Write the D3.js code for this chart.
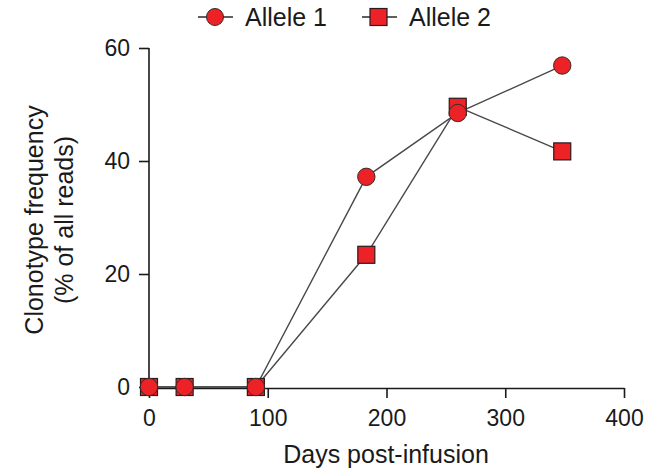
<!DOCTYPE html>
<html>
<head>
<meta charset="utf-8">
<script src="https://cdn.jsdelivr.net/npm/d3@7"></script>
<style>
  body { margin: 0; background: #fff; }
  text { font-family: "Liberation Sans", Arial, sans-serif; fill: #1a1a1a; }
</style>
</head>
<body>
<div class="chart"></div>
<script>
var days = [0, 30, 90, 183, 260, 348];
var allele1 = [0, 0, 0, 37.2, 48.5, 56.9];
var allele2 = [0, 0, 0, 23.4, 49.6, 41.7];
var xTicks = [0, 100, 200, 300, 400];
var yTicks = [0, 20, 40, 60];

var svgWidth = 656, svgHeight = 470;
var margin = { top: 48, left: 149, right: 32, bottom: 83 };
var width = svgWidth - margin.left - margin.right;   // 475
var height = svgHeight - margin.top - margin.bottom; // 339

var svg = d3.select(".chart").append("svg")
  .attr("width", svgWidth)
  .attr("height", svgHeight);

var g = svg.append("g")
  .attr("transform", `translate(${margin.left}, ${margin.top})`);

var x = d3.scaleLinear().domain([0, 400]).range([0, width]);
var y = d3.scaleLinear().domain([0, 60]).range([height, 0]);

// axes
var xAxis = g.append("g")
  .attr("transform", `translate(0, ${height + 1})`)
  .call(d3.axisBottom(x).tickValues(xTicks).tickSize(10).tickSizeOuter(0).tickPadding(12));
var yAxis = g.append("g")
  .call(d3.axisLeft(y).tickValues(yTicks).tickSize(10).tickSizeOuter(0).tickPadding(9));

[xAxis, yAxis].forEach(function (a) {
  a.select(".domain").attr("stroke", "#1a1a1a").attr("stroke-width", 1.6);
  a.selectAll(".tick line").attr("stroke", "#1a1a1a").attr("stroke-width", 1.6);
  a.selectAll(".tick text").style("font-size", "23px").attr("fill", "#1a1a1a");
});
// y domain reaches the x axis line
yAxis.select(".domain").attr("d", `M0,0V${height + 1}`);

// series lines
var line = d3.line().x(function (d, i) { return x(days[i]); }).y(function (d) { return y(d); });
[allele2, allele1].forEach(function (s) {
  g.append("path")
    .datum(s)
    .attr("d", line)
    .attr("fill", "none")
    .attr("stroke", "#4a4a4a")
    .attr("stroke-width", 1.4);
});

var red = "#ec2227";
// Allele 2 squares
g.selectAll(".sq").data(allele2).enter().append("rect")
  .attr("x", function (d, i) { return x(days[i]) - 8.5; })
  .attr("y", function (d) { return y(d) - 8.5; })
  .attr("width", 17).attr("height", 17)
  .attr("fill", red).attr("stroke", "#2a1a1a").attr("stroke-width", 1.2);

// Allele 1 circles
g.selectAll(".ci").data(allele1).enter().append("circle")
  .attr("cx", function (d, i) { return x(days[i]); })
  .attr("cy", function (d) { return y(d); })
  .attr("r", 8.7)
  .attr("fill", red).attr("stroke", "#3a2a2a").attr("stroke-width", 1);

// axis labels
g.append("text")
  .attr("x", 237)
  .attr("y", 415)
  .attr("text-anchor", "middle")
  .style("font-size", "25px")
  .text("Days post-infusion");

var yl = g.append("text")
  .attr("transform", "translate(-106, 172) rotate(-90)")
  .attr("text-anchor", "middle")
  .style("font-size", "25px");
yl.append("tspan").attr("x", 0).attr("dy", 0).text("Clonotype frequency");
yl.append("tspan").attr("x", 0).attr("dy", 30).text("(% of all reads)");

// legend
var legend = svg.append("g");
var leg = [
  { name: "Allele 1", shape: "circle", x: 198 },
  { name: "Allele 2", shape: "square", x: 362 }
];
leg.forEach(function (d) {
  var ly = 17;
  legend.append("line")
    .attr("x1", d.x).attr("x2", d.x + 35)
    .attr("y1", ly).attr("y2", ly)
    .attr("stroke", "#2a2a2a").attr("stroke-width", 1.6);
  if (d.shape === "circle") {
    legend.append("circle").attr("cx", d.x + 17).attr("cy", ly).attr("r", 8.5)
      .attr("fill", red).attr("stroke", "#3a2a2a").attr("stroke-width", 1);
  } else {
    legend.append("rect").attr("x", d.x + 8).attr("y", ly - 8.5).attr("width", 17).attr("height", 17)
      .attr("fill", red).attr("stroke", "#2a1a1a").attr("stroke-width", 1.2);
  }
  legend.append("text")
    .attr("x", d.x + 47).attr("y", 26)
    .style("font-size", "25px")
    .text(d.name);
});
</script>
</body>
</html>
